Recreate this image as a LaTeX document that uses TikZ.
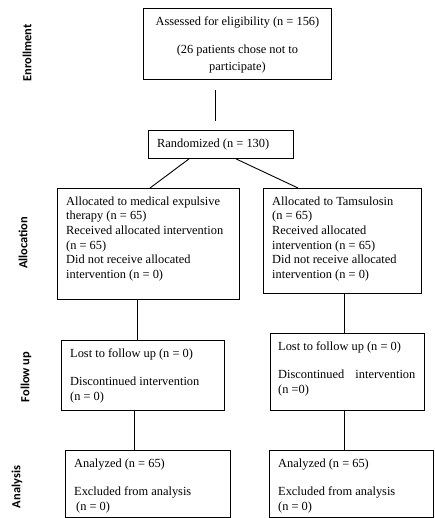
\documentclass[tikz,border=0pt]{standalone}
\usepackage{fontspec}
\setmainfont{Liberation Serif}
\newfontfamily\phasefont{Carlito}
\usetikzlibrary{calc}

\begin{document}
\begin{tikzpicture}
  [x=1pt,y=-1pt,
   box/.style={rectangle,draw=black,line width=0.9pt,inner sep=0pt,anchor=north west},
   boxtext/.style={anchor=north west,inner sep=0pt,align=left,font=\fontsize{12.4}{14.7}\selectfont},
   phase/.style={rotate=90,inner sep=0pt,font=\phasefont\bfseries\fontsize{12.4}{14}\selectfont},
   link/.style={draw=black,line width=0.9pt}]
  \useasboundingbox (0,0) rectangle (434,518);
  \node[phase] (enrolment) at (27,53) {Enrollment};
  \node[phase] (allocation) at (23,243) {Allocation};
  \node[phase] (followup) at (26,377) {Follow up};
  \node[phase] (analysis) at (17,487) {Analysis};
  \node[box,minimum width=188pt,minimum height=71pt] (enrol) at (143,8) {};
  \node[boxtext,anchor=north,align=center] (t_enrol) at ($(enrol.north)+(0,6.7)$)
    {\strut Assessed for eligibility (n = 156)\\[13.3pt] (26 patients chose not to\\[2.3pt] participate)};
  \node[box,minimum width=145pt,minimum height=28pt] (rand) at (148,130) {};
  \node[boxtext] (t_rand) at ($(rand.north west)+(9,6.7)$) {\strut Randomized (n = 130)};
  \node[box,minimum width=182pt,minimum height=111pt] (alloc1) at (57,188) {};
  \node[boxtext] (t_alloc1) at ($(alloc1.north west)+(9,6.7)$)
    {\strut Allocated to medical expulsive\\ therapy (n = 65)\\ Received allocated intervention\\ (n = 65)\\ Did not receive allocated\\ intervention (n = 0)};
  \node[box,minimum width=158pt,minimum height=105pt] (alloc2) at (263,188) {};
  \node[boxtext] (t_alloc2) at ($(alloc2.north west)+(9,6.7)$)
    {\strut Allocated to Tamsulosin\\ (n = 65)\\ Received allocated\\ intervention (n = 65)\\ Did not receive allocated\\ intervention (n = 0)};
  \node[box,minimum width=163pt,minimum height=70pt] (follow1) at (61,340) {};
  \node[boxtext] (t_follow1) at ($(follow1.north west)+(9,6.7)$)
    {\strut Lost to follow up (n = 0)\\[13.5pt] Discontinued intervention\\ (n = 0)};
  \node[box,minimum width=154pt,minimum height=77pt] (follow2) at (270,333) {};
  \node[boxtext] (t_follow2) at ($(follow2.north west)+(8,6.7)$)
    {\strut Lost to follow up (n = 0)\\[13.5pt] Discontinued\hspace{8pt} intervention\\ (n =0)};
  \node[box,minimum width=165pt,minimum height=67pt] (anal1) at (65,450) {};
  \node[boxtext] (t_anal1) at ($(anal1.north west)+(9,6.7)$)
    {\strut Analyzed (n = 65)\\[13.5pt] Excluded from analysis\\ \hspace{2pt}(n = 0)};
  \node[box,minimum width=164pt,minimum height=67pt] (anal2) at (269,450) {};
  \node[boxtext] (t_anal2) at ($(anal2.north west)+(9,6.7)$)
    {\strut Analyzed (n = 65)\\[13.5pt] Excluded from analysis\\ (n = 0)};
  \draw[link] ($(enrol.south west)+(72,10)$) -- ($(rand.north west)+(67,-9)$);
  \draw[link] ($(rand.south west)+(41,0)$) -- ($(alloc1.north west)+(93,0)$);
  \draw[link] ($(rand.south west)+(88,0)$) -- ($(alloc2.north west)+(35,0)$);
  \draw[link] ($(alloc1.south west)+(80,0)$) -- ($(follow1.north west)+(76,0)$);
  \draw[link] ($(alloc2.south west)+(81,0)$) -- ($(follow2.north west)+(74,0)$);
  \draw[link] ($(follow1.south west)+(73,0)$) -- ($(anal1.north west)+(69,0)$);
  \draw[link] ($(follow2.south west)+(74,0)$) -- ($(anal2.north west)+(75,0)$);
\end{tikzpicture}
\end{document}
